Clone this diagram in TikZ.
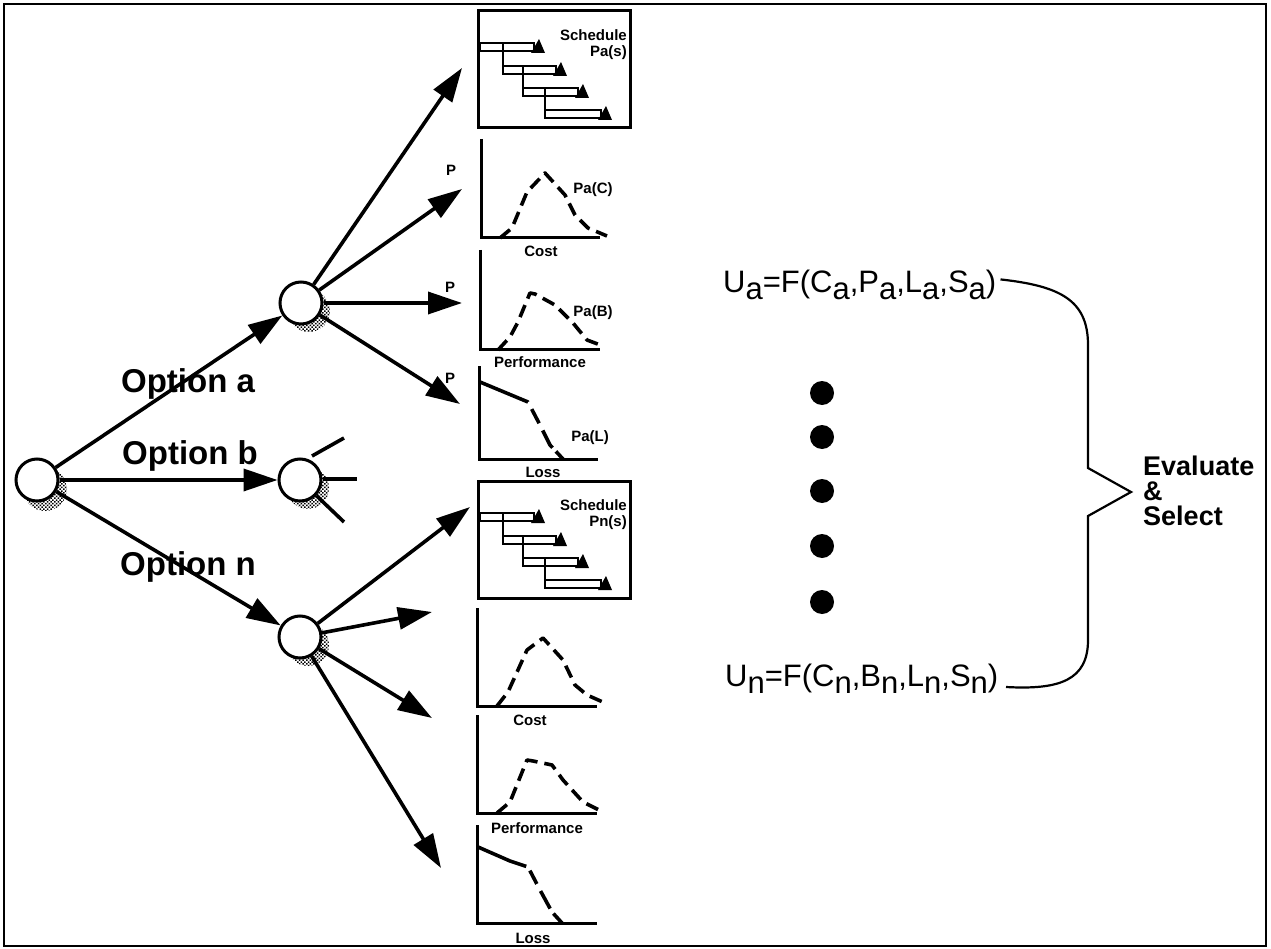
\documentclass[tikz,border=0pt]{standalone}
\usepackage{fontspec}
\setmainfont{Liberation Sans}
\usetikzlibrary{arrows.meta,patterns}
\newcommand\lowsub[1]{\raisebox{-7pt}{#1}}
\pgfdeclarepatternformonly{sdots}{\pgfqpoint{-1pt}{-1pt}}{\pgfqpoint{4pt}{4pt}}{\pgfqpoint{3.6pt}{3.6pt}}{%
  \pgfpathrectangle{\pgfqpoint{0pt}{0pt}}{\pgfqpoint{1.5pt}{1.5pt}}%
  \pgfpathrectangle{\pgfqpoint{1.8pt}{1.8pt}}{\pgfqpoint{1.5pt}{1.5pt}}%
  \pgfusepath{fill}}
\begin{document}
\begin{tikzpicture}[x=1pt,y=-1pt,
  arr/.style={line width=3.6pt,-{Triangle[length=34pt,width=22pt]}},
  stub/.style={line width=3.6pt},
  dnode/.style={circle,draw,line width=3pt,fill=white,minimum size=42pt,inner sep=0pt},
  shade/.style={pattern=sdots,pattern color=black},
  axis/.style={line width=3pt},
  curve/.style={line width=3.6pt,dash pattern=on 13pt off 7pt,line join=round},
  lbl/.style={font=\fontsize{15}{16}\selectfont\bfseries,inner sep=0pt},
  opt/.style={font=\fontsize{33}{36}\selectfont\bfseries,inner sep=0pt},
  frm/.style={font=\fontsize{31}{36}\selectfont,inner sep=0pt},
  evl/.style={font=\fontsize{27}{30}\selectfont\bfseries,inner sep=0pt,anchor=base west,text height=19pt,text depth=0pt},
  bigdot/.style={circle,fill=black,minimum size=24pt,inner sep=0pt},
  bar/.style={draw,line width=2.6pt,fill=white},
  sbox/.style={line width=3pt},
  ]
\useasboundingbox (0,0) rectangle (1271,949);
\draw[line width=2.2pt] (4,4) rectangle (1266,946);

% shadows
\fill[shade] (45,489) circle (22);
\fill[shade] (309,311) circle (21);
\fill[shade] (308,488) circle (21);
\fill[shade] (308,645) circle (21);

% decision nodes
\node[dnode] (root) at (37,480) {};
\node[dnode] (na) at (301,303) {};
\node[dnode] (nb) at (300,480) {};
\node[dnode] (nn) at (300,637) {};

% free ends
\coordinate (a1) at (462,68);
\coordinate (a2) at (462,189);
\coordinate (a3) at (462,303);
\coordinate (a4) at (460,404);
\coordinate (b1) at (344,438);
\coordinate (b2) at (357,479);
\coordinate (b3) at (344,522);
\coordinate (n1) at (470,507);
\coordinate (n2) at (432,612);
\coordinate (n3) at (432,718);
\coordinate (n4) at (441,868);

\draw[arr] (root) -- (na);
\draw[arr] (root.east |- nb) -- (nb);
\draw[arr] (root) -- (nn);
\draw[arr] (na) -- (a1);
\draw[arr] (na) -- (a2);
\draw[arr] (na) -- (a3);
\draw[arr] (na) -- (a4);
\draw[stub] (nb) ++(12,-24) -- (b1);
\draw[stub] (nb.east |- b2) -- (b2);
\draw[stub] (nb) -- (b3);
\draw[arr] (nn) -- (n1);
\draw[arr] (nn) -- (n2);
\draw[arr] (nn) -- (n3);
\draw[arr] (nn) -- (n4);

% option labels
\node[opt] (oa) at (188,384) {Option a};
\node[opt] (ob) at (190,456) {Option b};
\node[opt] (on) at (188,567) {Option n};

% schedule boxes
\foreach \dy/\lab in {0/Pa(s), 470/Pn(s)} {
  \begin{scope}[shift={(0,\dy)}]
    \draw[sbox] (478,11) rectangle (630,128);
    \foreach \xl/\xr/\yt in {480/534/43, 503/556/66, 523/578/88, 545/601/110} {
      \draw[bar] (\xl,\yt) rectangle (\xr,\yt+8);
      \fill (\xr-3,\yt+10) -- (\xr+11,\yt+10) -- (\xr+5,\yt-4) -- cycle;
    }
    \draw[line width=2.6pt] (503,43) -- (503,74);
    \draw[line width=2.6pt] (523,66) -- (523,96);
    \draw[line width=2.6pt] (545,88) -- (545,118);
    \node[lbl,align=right,anchor=east] at (627,45) {Schedule\\\lab};
  \end{scope}
}

% Cost a
\draw[axis] (481,139) -- (481,238) -- (600,238);
\draw[curve] (500,238) -- (512,228) -- (527,192) -- (545,173) -- (565,195) -- (575,215) -- (588,228) -- (607,236);
\node[lbl] (pc) at (451,170) {P};
\node[lbl] (pac) at (593,190) {Pa(C)};
\node[lbl] (ca) at (541,251) {Cost};
% Performance a
\draw[axis] (480,250) -- (480,350) -- (600,350);
\draw[curve] (498,350) -- (510,337) -- (518,322) -- (530,293) -- (535,294) -- (555,305) -- (573,323) -- (587,340) -- (603,346);
\node[lbl] (pp) at (450,287) {P};
\node[lbl] (pab) at (593,313) {Pa(B)};
\node[lbl] (pa) at (540,362) {Performance};
% Loss a
\draw[axis] (479,366) -- (479,459) -- (598,459);
\draw[curve,dash pattern=on 52pt off 8pt on 16pt off 8pt on 20pt off 5pt on 20pt off 4pt] (480,382) -- (528,402) -- (540,425) -- (550,445) -- (563,459);
\node[lbl] (pl) at (450,378) {P};
\node[lbl] (pal) at (590,438) {Pa(L)};
\node[lbl] (la) at (543,472) {Loss};

% Cost n
\draw[axis] (477,608) -- (477,706) -- (597,706);
\draw[curve] (497,706) -- (508,692) -- (527,650) -- (543,638) -- (563,660) -- (575,685) -- (587,695) -- (605,703);
\node[lbl] (cn) at (530,720) {Cost};
% Performance n
\draw[axis] (477,715) -- (477,813) -- (597,813);
\draw[curve] (497,813) -- (510,802) -- (527,760) -- (533,761) -- (552,765) -- (563,780) -- (583,802) -- (603,812);
\node[lbl] (pn) at (537,828) {Performance};
% Loss n
\draw[axis] (477,825) -- (477,923) -- (597,923);
\draw[curve,dash pattern=on 52pt off 6pt on 15pt off 8pt on 20pt off 6pt on 20pt off 4pt] (478,847) -- (510,861) -- (528,867) -- (540,890) -- (552,912) -- (562,923);
\node[lbl] (ln) at (533,938) {Loss};

% formulas
\node[frm,anchor=base west] (ua) at (723,293) {U\lowsub{a}=F(C\lowsub{a},P\lowsub{a},L\lowsub{a},S\lowsub{a})};
\node[frm,anchor=base west] (un) at (725,686) {U\lowsub{n}=F(C\lowsub{n},B\lowsub{n},L\lowsub{n},S\lowsub{n})};

% dots
\foreach \y [count=\i] in {393,437,491,546,602} \node[bigdot] (d\i) at (822,\y) {};

% brace
\draw[line width=2.2pt,line join=miter] (ua.east) ++(4,-6)
  .. controls (1060,286) and (1088,300) .. (1088,345)
  -- (1088,468) -- (1131,492) -- (1088,516) -- (1088,640)
  .. controls (1088,680) and (1060,690) .. (1006,687);

\node[evl] (ev1) at (1143,475) {Evaluate};
\node[evl] (ev2) at (1143,500) {\&};
\node[evl] (ev3) at (1143,525) {Select};
\end{tikzpicture}
\end{document}
